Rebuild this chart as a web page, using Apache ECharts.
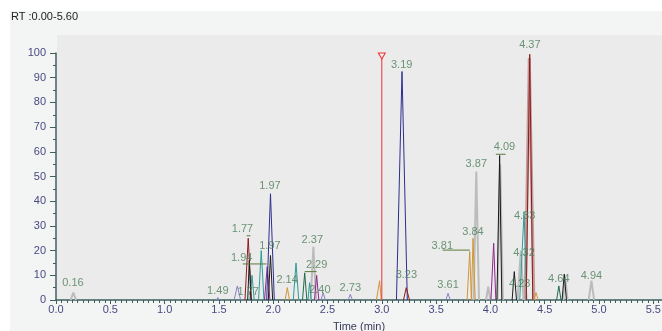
<!DOCTYPE html>
<html>
<head>
<meta charset="utf-8">
<script src="https://cdn.jsdelivr.net/npm/echarts@6/dist/echarts.min.js"></script>
<style>
  html, body { margin: 0; padding: 0; background: #fff; }
  #container { width: 662px; height: 331px; }
</style>
</head>
<body>
<div id="container"></div>
<script>
const myChart = echarts.init(document.getElementById('container'))

const G = '-'  // gap between peaks

// traces, one array per colour: [time (min), relative abundance]
const navy = [[1.94, 0], [1.975, 43], [2.01, 0], [G, G], [3.135, 0], [3.186, 92.5], [3.235, 0]]
const rose = [[4.32, 0], [4.358, 98], [4.40, 0]]
const darkred = [[1.74, 0], [1.77, 25], [1.80, 0], [G, G], [3.20, 0], [3.225, 5], [3.255, 0], [G, G], [4.33, 0], [4.362, 99.5], [4.39, 0]]
const teal = [[1.785, 0], [1.805, 10], [1.825, 0], [G, G], [1.865, 0], [1.89, 20], [1.915, 0], [G, G], [2.185, 0], [2.21, 15], [2.235, 0], [G, G], [2.32, 0], [2.335, 7], [2.35, 0], [G, G], [4.27, 0], [4.31, 35.7], [4.335, 0]]
const magenta = [[1.92, 0], [1.945, 13.5], [1.97, 0], [G, G], [2.38, 0], [2.40, 10], [2.42, 0], [G, G], [4.005, 0], [4.03, 23], [4.05, 0]]
const black = [[1.765, 0], [1.78, 16], [1.795, 0], [G, G], [1.955, 0], [1.975, 18], [1.995, 0], [G, G], [4.06, 0], [4.085, 58.5], [4.105, 0], [G, G], [4.20, 0], [4.22, 11.5], [4.24, 0], [G, G], [4.66, 0], [4.68, 10.5], [4.70, 0]]
const gray = [[0.135, 0], [0.16, 3], [0.185, 0], [G, G], [2.345, 0], [2.37, 21.5], [2.395, 0], [G, G], [3.845, 0], [3.87, 52], [3.895, 0], [G, G], [3.96, 0], [3.98, 5.4], [4.0, 0], [G, G], [4.065, 0], [4.09, 55], [4.115, 0], [G, G], [4.25, 0], [4.28, 20], [4.305, 0], [G, G], [4.67, 0], [4.69, 9], [4.71, 0], [G, G], [4.905, 0], [4.93, 7.8], [4.955, 0]]
const orange = [[2.11, 0], [2.13, 5], [2.15, 0], [G, G], [2.95, 0], [2.98, 7.8], [2.995, 0], [G, G], [3.785, 0], [3.81, 19.6], [3.825, 0], [3.84, 25], [3.86, 0], [G, G], [4.40, 0], [4.42, 3], [4.44, 0]]
const darkgreen = [[2.27, 0], [2.29, 11], [2.31, 0], [G, G], [4.61, 0], [4.63, 5.7], [4.65, 0]]
const lavender = [[1.48, 0], [1.49, 1], [1.50, 0], [G, G], [1.64, 0], [1.67, 5.7], [1.70, 0], [G, G], [2.44, 0], [2.46, 3], [2.48, 0], [G, G], [2.69, 0], [2.71, 2.3], [2.73, 0], [G, G], [3.59, 0], [3.61, 2.7], [3.63, 0]]

// cursor at 3.00 min
const cursor = [3.0, 98.8]

// peak labels: [time, height, text]
const peakLabels = [
    [0.156, 6.9, '0.16'], [1.49, 3.8, '1.49'], [1.77, 3.4, '1.77'], [1.71, 17.1, '1.94'],
    [1.717, 28.7, '1.77'], [1.97, 22, '1.97'], [1.97, 46.3, '1.97'], [2.128, 8.1, '2.14'],
    [2.36, 24.3, '2.37'], [2.40, 14.2, '2.29'], [2.43, 4.0, '2.40'], [2.71, 4.7, '2.73'],
    [3.226, 10.1, '3.23'], [3.61, 6.1, '3.61'], [3.183, 95.1, '3.19'], [4.363, 103.2, '4.37'],
    [4.13, 62, '4.09'], [3.87, 55, '3.87'], [3.84, 27.7, '3.84'], [3.557, 21.9, '3.81'],
    [4.315, 34, '4.33'], [4.31, 18.9, '4.32'], [4.27, 6.5, '4.23'], [4.63, 8.4, '4.64'],
    [4.93, 9.7, '4.94']
]

// horizontal label leaders
const leaders = [
    [1.755, 26], [1.79, 26], [G, G],
    [1.72, 14.6], [1.94, 14.6], [G, G],
    [2.29, 11.5], [2.40, 11.5], [G, G],
    [3.56, 20.2], [3.81, 20.2], [G, G],
    [4.05, 59], [4.14, 59]
]

const traces = [
    { data: rose, color: '#c49c9c', width: 3 },
    { data: gray, color: '#bcbcbc', width: 2 },
    { data: orange, color: '#cf9636', width: 1 },
    { data: lavender, color: '#8a7fc4', width: 1 },
    { data: teal, color: '#2c9b98', width: 1 },
    { data: darkgreen, color: '#1e6b4c', width: 1 },
    { data: magenta, color: '#8c2a8c', width: 1 },
    { data: navy, color: '#2e2e8f', width: 1 },
    { data: darkred, color: '#8e1b1b', width: 1 },
    { data: black, color: '#1a1a1a', width: 1 }
]

const axisColor = '#3f5f5f'
const tickText = '#4a4880'

const series = traces.map(t => ({
    type: 'line',
    data: t.data,
    showSymbol: false,
    connectNulls: false,
    animation: false,
    lineStyle: { color: t.color, width: t.width }
}))

series.push({
    type: 'line',
    data: leaders,
    showSymbol: false,
    animation: false,
    lineStyle: { color: '#5b7a3a', width: 1 }
})

series.push({
    type: 'line',
    animation: false,
    data: [
        { value: [cursor[0], 0], symbol: 'none' },
        { value: cursor }
    ],
    symbol: 'path://M0,0L10,0L5,9Z',
    symbolSize: [7, 6],
    lineStyle: { color: '#ee3333', width: 1 },
    itemStyle: { color: '#ebebeb', borderColor: '#ee3333', borderWidth: 1 }
})

series.push({
    type: 'scatter',
    clip: false,
    animation: false,
    symbolSize: 0,
    data: peakLabels.map(p => ({ value: [p[0], p[1]], name: p[2] })),
    label: {
        show: true,
        position: 'inside',
        formatter: p => p.name,
        fontFamily: 'Liberation Sans',
        fontSize: 11,
        color: '#4a7d58'
    },
    z: 10
})

const option = {
    backgroundColor: '#fff',
    animation: false,
    title: {
        text: 'RT :0.00-5.60',
        left: 11,
        top: 11,
        padding: 0,
        textStyle: {
            fontFamily: 'Liberation Sans',
            fontSize: 11,
            fontWeight: 'normal',
            color: '#222'
        }
    },
    graphic: [
        { type: 'rect', shape: { x: 10, y: 11, width: 652, height: 320 }, style: { fill: '#f3f4f4' }, z: -10, silent: true },
        { type: 'rect', shape: { x: 57, y: 35, width: 605, height: 265 }, style: { fill: '#ebebeb' }, z: -9, silent: true }
    ],
    grid: {
        left: 56,
        right: 0,
        top: 53,
        bottom: 31,
        containLabel: false,
        outerBoundsMode: 'none'
    },
    xAxis: {
        type: 'value',
        min: 0,
        max: 5.58,
        interval: 0.5,
        name: 'Time (min)',
        nameLocation: 'middle',
        nameGap: 21,
        nameTextStyle: { fontFamily: 'Liberation Sans', fontSize: 11, color: '#3a3a5a' },
        axisLine: { show: true, lineStyle: { color: axisColor, width: 1.5 } },
        axisTick: { show: true, length: 4, lineStyle: { color: axisColor } },
        minorTick: { show: true, splitNumber: 10, length: 3, lineStyle: { color: axisColor } },
        splitLine: { show: false },
        axisLabel: {
            fontFamily: 'Liberation Sans',
            fontSize: 11,
            color: tickText,
            margin: 4,
            formatter: v => Math.abs(v * 2 - Math.round(v * 2)) < 1e-6 ? v.toFixed(1) : ''
        }
    },
    yAxis: {
        type: 'value',
        min: 0,
        max: 100,
        interval: 10,
        axisLine: { show: true, lineStyle: { color: axisColor, width: 1.5 } },
        axisTick: { show: true, length: 6, lineStyle: { color: axisColor } },
        minorTick: { show: true, splitNumber: 2, length: 3, lineStyle: { color: axisColor } },
        splitLine: { show: false },
        axisLabel: {
            fontFamily: 'Liberation Sans',
            fontSize: 11,
            color: tickText,
            margin: 10
        }
    },
    series: series
}

myChart.setOption(option)
</script>
</body>
</html>
